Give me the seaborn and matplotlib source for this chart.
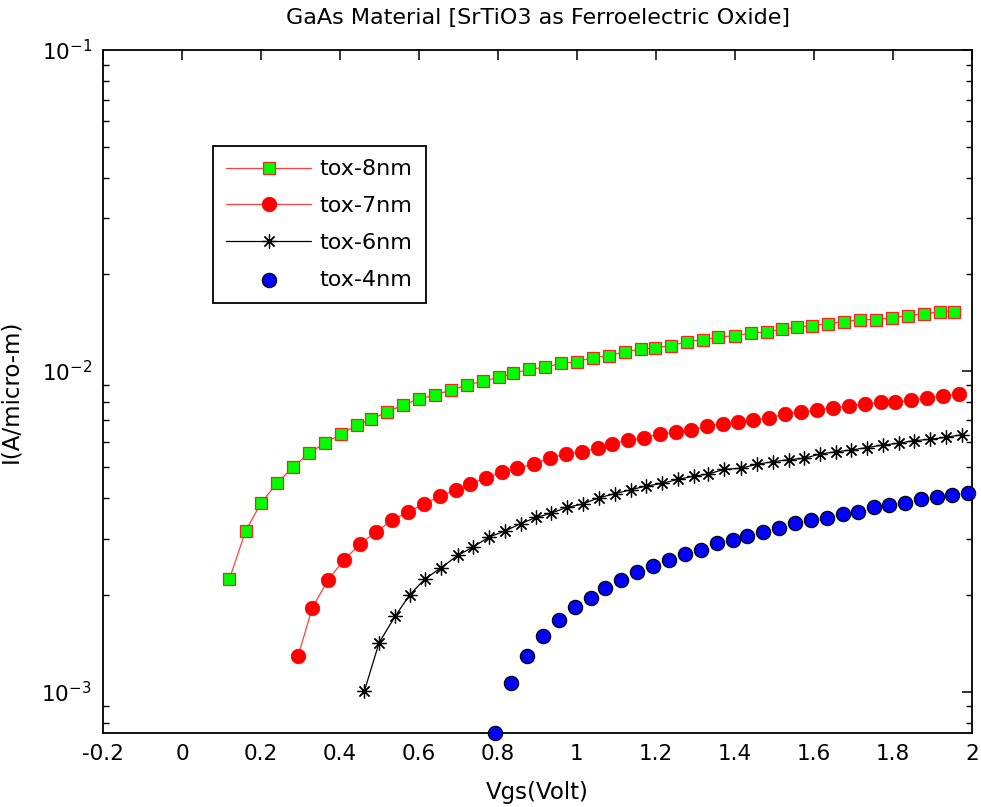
import matplotlib
matplotlib.use("Agg")
import matplotlib.pyplot as plt
import seaborn as sns

# Gate voltage (V) and drain current (A/micro-m) for each oxide thickness
vgs_8nm = [0.12, 0.161, 0.20, 0.241, 0.281, 0.322, 0.362, 0.403, 0.443, 0.478, 0.519, 0.559,
           0.60, 0.641, 0.681, 0.722, 0.762, 0.803, 0.839, 0.879, 0.919, 0.959, 0.999, 1.04,
           1.08, 1.121, 1.161, 1.197, 1.237, 1.278, 1.318, 1.358, 1.399, 1.44, 1.48, 1.52,
           1.556, 1.595, 1.636, 1.677, 1.717, 1.758, 1.798, 1.839, 1.879, 1.92, 1.955]
id_8nm = [2.244e-3, 3.167e-3, 3.87e-3, 4.47e-3, 5.01e-3, 5.54e-3, 5.955e-3, 6.35e-3, 6.78e-3,
          7.07e-3, 7.44e-3, 7.82e-3, 8.17e-3, 8.41e-3, 8.71e-3, 9.03e-3, 9.29e-3, 9.54e-3,
          9.82e-3, 1.011e-2, 1.025e-2, 1.055e-2, 1.067e-2, 1.099e-2, 1.114e-2, 1.147e-2,
          1.167e-2, 1.180e-2, 1.197e-2, 1.233e-2, 1.250e-2, 1.272e-2, 1.288e-2, 1.309e-2,
          1.324e-2, 1.347e-2, 1.367e-2, 1.383e-2, 1.403e-2, 1.423e-2, 1.444e-2, 1.444e-2,
          1.464e-2, 1.486e-2, 1.507e-2, 1.529e-2, 1.529e-2]

vgs_7nm = [0.294, 0.330, 0.370, 0.410, 0.451, 0.491, 0.532, 0.572, 0.613, 0.653, 0.693, 0.728,
           0.769, 0.809, 0.849, 0.890, 0.931, 0.971, 1.012, 1.052, 1.088, 1.128, 1.169, 1.209,
           1.250, 1.289, 1.330, 1.370, 1.408, 1.446, 1.486, 1.527, 1.567, 1.608, 1.648, 1.689,
           1.729, 1.770, 1.805, 1.846, 1.886, 1.926, 1.966]
id_7nm = [1.294e-3, 1.826e-3, 2.233e-3, 2.572e-3, 2.885e-3, 3.144e-3, 3.421e-3, 3.629e-3,
          3.848e-3, 4.064e-3, 4.249e-3, 4.443e-3, 4.625e-3, 4.835e-3, 4.969e-3, 5.121e-3,
          5.347e-3, 5.502e-3, 5.582e-3, 5.744e-3, 5.912e-3, 6.085e-3, 6.173e-3, 6.353e-3,
          6.431e-3, 6.539e-3, 6.743e-3, 6.826e-3, 6.915e-3, 7.025e-3, 7.127e-3, 7.333e-3,
          7.439e-3, 7.547e-3, 7.656e-3, 7.767e-3, 7.879e-3, 7.976e-3, 7.976e-3, 8.091e-3,
          8.243e-3, 8.345e-3, 8.466e-3]

vgs_6nm = [0.462, 0.499, 0.540, 0.576, 0.614, 0.656, 0.698, 0.736, 0.777, 0.818, 0.857, 0.897,
           0.933, 0.974, 1.014, 1.055, 1.095, 1.136, 1.175, 1.216, 1.256, 1.297, 1.332, 1.373,
           1.414, 1.455, 1.495, 1.536, 1.575, 1.615, 1.656, 1.693, 1.733, 1.774, 1.814, 1.852,
           1.894, 1.934, 1.975]
id_6nm = [1.0065e-3, 1.421e-3, 1.720e-3, 2.000e-3, 2.239e-3, 2.433e-3, 2.660e-3, 2.817e-3,
          3.033e-3, 3.167e-3, 3.338e-3, 3.492e-3, 3.594e-3, 3.752e-3, 3.842e-3, 4.020e-3,
          4.137e-3, 4.258e-3, 4.373e-3, 4.459e-3, 4.589e-3, 4.699e-3, 4.767e-3, 4.932e-3,
          4.966e-3, 5.111e-3, 5.207e-3, 5.283e-3, 5.336e-3, 5.502e-3, 5.594e-3, 5.663e-3,
          5.758e-3, 5.871e-3, 5.943e-3, 6.055e-3, 6.116e-3, 6.204e-3, 6.321e-3]

vgs_4nm = [0.792, 0.833, 0.874, 0.915, 0.955, 0.996, 1.036, 1.072, 1.112, 1.153, 1.192, 1.233,
           1.273, 1.313, 1.354, 1.394, 1.430, 1.470, 1.511, 1.551, 1.592, 1.632, 1.673, 1.712,
           1.753, 1.789, 1.830, 1.870, 1.911, 1.950, 1.991]
id_4nm = [7.43e-4, 1.061e-3, 1.294e-3, 1.493e-3, 1.675e-3, 1.831e-3, 1.962e-3, 2.109e-3,
          2.228e-3, 2.365e-3, 2.469e-3, 2.578e-3, 2.691e-3, 2.769e-3, 2.900e-3, 2.973e-3,
          3.062e-3, 3.151e-3, 3.243e-3, 3.346e-3, 3.434e-3, 3.484e-3, 3.584e-3, 3.636e-3,
          3.752e-3, 3.806e-3, 3.862e-3, 3.974e-3, 4.032e-3, 4.090e-3, 4.149e-3]

x_ticks = [-0.2, 0, 0.2, 0.4, 0.6, 0.8, 1, 1.2, 1.4, 1.6, 1.8, 2]
x_tick_labels = ["-0.2", "0", "0.2", "0.4", "0.6", "0.8", "1", "1.2", "1.4", "1.6", "1.8", "2"]

sns.set_theme(style="white")
plt.rcParams["font.family"] = ["DejaVu Sans"]
plt.rcParams["mathtext.default"] = "regular"
plt.rcParams["text.color"] = "black"
plt.rcParams["axes.labelcolor"] = "black"
plt.rcParams["xtick.color"] = "black"
plt.rcParams["ytick.color"] = "black"

fig = plt.figure(figsize=(9.81, 8.07), dpi=100)
ax = fig.add_axes([103 / 981, 74 / 807, 869 / 981, 683 / 807])

sns.lineplot(x=vgs_8nm, y=id_8nm, ax=ax, sort=False, estimator=None, color="#ff4040",
             linewidth=0.9, marker="s", markersize=9, markerfacecolor="#00ff00",
             markeredgecolor="#ff2020", markeredgewidth=0.9, label="tox-8nm")
sns.lineplot(x=vgs_7nm, y=id_7nm, ax=ax, sort=False, estimator=None, color="#ff4040",
             linewidth=0.9, marker="o", markersize=10.5, markerfacecolor="#ff0000",
             markeredgecolor="#ff0000", markeredgewidth=0.5, label="tox-7nm")
sns.lineplot(x=vgs_6nm, y=id_6nm, ax=ax, sort=False, estimator=None, color="black",
             linewidth=0.9, marker=(8, 2, 0), markersize=10, markeredgecolor="black",
             markeredgewidth=0.9, label="tox-6nm")
sns.scatterplot(x=vgs_4nm, y=id_4nm, ax=ax, color="#0000ff", edgecolor="black",
                linewidth=0.9, s=105, label="tox-4nm", clip_on=False, zorder=4)

ax.set_yscale("log")
ax.set_xlim(-0.2, 2)
ax.set_ylim(7.43e-4, 1e-1)
ax.set_xticks(x_ticks)
ax.set_xticklabels(x_tick_labels)

for side in ["left", "right", "top", "bottom"]:
    ax.spines[side].set_visible(True)
    ax.spines[side].set_color("black")
    ax.spines[side].set_linewidth(1.3)

ax.tick_params(axis="both", which="major", direction="in", top=True, right=True,
               length=7.5, width=1.1, color="black", labelcolor="black", labelsize=15.5, pad=8)
ax.tick_params(axis="y", which="minor", direction="in", left=True, right=True,
               length=4.5, width=1.0, color="black")
ax.tick_params(axis="x", which="minor", bottom=False, top=False)
ax.grid(False)

ax.set_title("GaAs Material [SrTiO3 as Ferroelectric Oxide]", fontsize=16, pad=19,
             color="black")
ax.set_xlabel("Vgs(Volt)", fontsize=16.5)
ax.set_ylabel("I(A/micro-m)", fontsize=16.5)
ax.xaxis.set_label_coords(0.5, -0.071)
ax.yaxis.set_label_coords(-0.093, 0.5)

leg = ax.legend(loc="upper left", bbox_to_anchor=(0.1266, 0.8594), borderaxespad=0,
                frameon=True, fancybox=False, framealpha=1, edgecolor="black",
                fontsize=16, handlelength=3.8, handletextpad=0.4, labelspacing=0.76,
                borderpad=0.6, scatterpoints=1)
leg.get_frame().set_linewidth(1.3)
for txt in leg.get_texts():
    txt.set_color("black")

fig.savefig("out.png", dpi=100, facecolor="white")
